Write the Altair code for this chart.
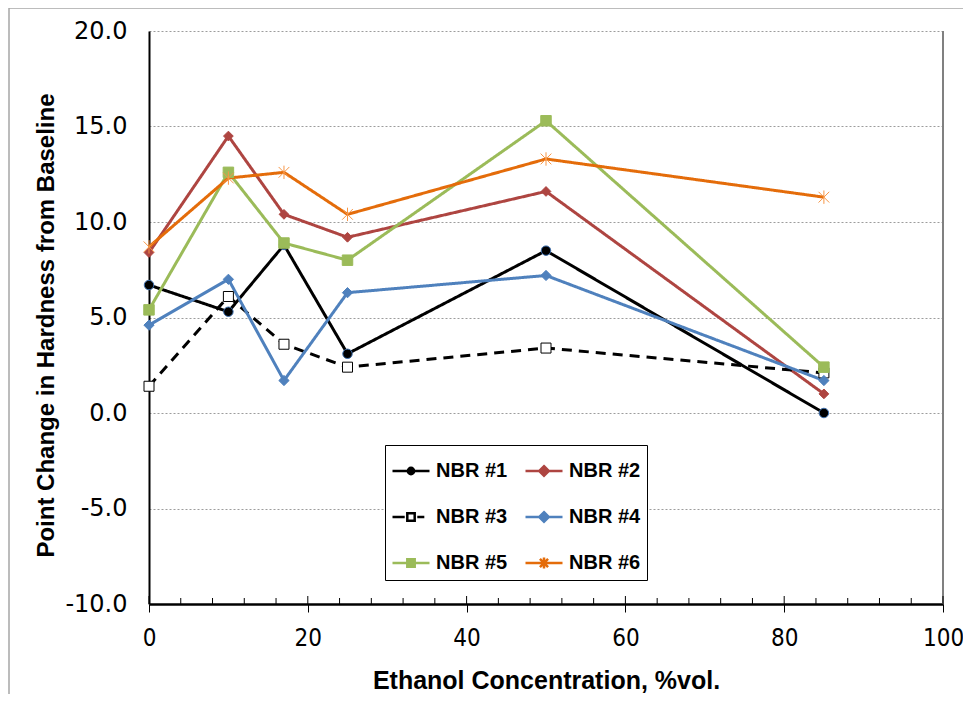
import altair as alt
import pandas as pd

# ---- data ----
x_vals = [0, 10, 17, 25, 50, 85]
series_names = ["NBR #1", "NBR #2", "NBR #3", "NBR #4", "NBR #5", "NBR #6"]
nbr1 = [6.7, 5.3, 8.8, 3.1, 8.5, 0.0]
nbr2 = [8.4, 14.5, 10.4, 9.2, 11.6, 1.0]
nbr3 = [1.4, 6.1, 3.6, 2.4, 3.4, 2.1]
nbr4 = [4.6, 7.0, 1.7, 6.3, 7.2, 1.7]
nbr5 = [5.4, 12.6, 8.9, 8.0, 15.3, 2.4]
nbr6 = [8.7, 12.3, 12.6, 10.4, 13.3, 11.3]

x_ticks = [0, 20, 40, 60, 80, 100]
minor_ticks = [4, 8, 12, 16, 24, 28, 32, 36, 44, 48, 52, 56, 64, 68, 72, 76, 84, 88, 92, 96]
y_ticks = [-10, -5, 0, 5, 10, 15, 20]

rows = []
for name, vals in zip(series_names, [nbr1, nbr2, nbr3, nbr4, nbr5, nbr6]):
    for x, y in zip(x_vals, vals):
        rows.append({"series": name, "conc": x, "change": y})
df = pd.DataFrame(rows)

W, H = 794, 573

# ---- styles ----
line_colors = ["#000000", "#AE4541", "#000000", "#4F81BD", "#9BBB59", "#E46C0A"]
dashes = [[1, 0], [1, 0], [10, 7], [1, 0], [1, 0], [1, 0]]
star_path = "M-1,-1L1,1M-1,1L1,-1M0,-1.25V1.25"
marker_shapes = ["circle", "diamond", "square", "diamond", "square", star_path]
marker_fill = ["#000000", "#AE4541", "#FFFFFF", "#4F81BD", "#9BBB59", "#F79646"]
marker_stroke = ["#3D6FAE", "#AE4541", "#000000", "#4F81BD", "#9BBB59", "#F79646"]
marker_size = [90, 115, 85, 115, 95, 100]
marker_sw = [1, 1, 1.2, 1, 1, 1.6]

leg_shapes = [
    "M-1,0H1M-0.17,0A0.17,0.17,0,1,0,0.17,0A0.17,0.17,0,1,0,-0.17,0Z",
    "M-1,0H1M0,-0.26L0.26,0L0,0.26L-0.26,0Z",
    "M-1,0H-0.34M0.34,0H0.72M-0.2,-0.2H0.2V0.2H-0.2Z",
    "M-1,0H1M0,-0.26L0.26,0L0,0.26L-0.26,0Z",
    "M-1,0H1M-0.2,-0.2H0.2V0.2H-0.2Z",
    "M-1,0H1M-0.22,-0.22L0.22,0.22M-0.22,0.22L0.22,-0.22M0,-0.3V0.3",
]
leg_fill = ["#000000", "#AE4541", "#FFFFFF", "#4F81BD", "#9BBB59", "#E46C0A"]
leg_stroke = ["#000000", "#AE4541", "#000000", "#4F81BD", "#9BBB59", "#E46C0A"]

xscale = alt.Scale(domain=[0, 100], nice=False, zero=False)
yscale = alt.Scale(domain=[-10, 20], nice=False, zero=False)

lbl_font = "DejaVu Sans"
xlbl_font = "DejaVu Sans Condensed, Liberation Sans Narrow, sans-serif"
title_font = "Liberation Sans"

x_axis = alt.Axis(
    values=x_ticks, title="Ethanol Concentration, %vol.", grid=False,
    domainColor="#000000", domainWidth=2.5, tickColor="#000000", tickSize=8, tickWidth=1,
    labelFont=xlbl_font, labelFontSize=24, labelColor="#000000", labelPadding=14,
    labelFlush=False,
    titleFont=title_font, titleFontSize=25, titleFontWeight="bold", titleColor="#000000",
    titlePadding=18,
)
y_axis = alt.Axis(
    values=y_ticks, title="Point Change in Hardness from Baseline",
    labelExpr="(datum.value < 0 ? '-' : '') + format(abs(datum.value), '.1f')",
    grid=True, gridColor="#9C9C9C", gridDash=[2, 2], gridWidth=1,
    domainColor="#000000", domainWidth=2, ticks=False, tickSize=0,
    labelFont=lbl_font, labelFontSize=24, labelColor="#000000", labelPadding=22,
    labelFlush=False,
    titleFont=title_font, titleFontSize=24, titleFontWeight="bold", titleColor="#000000",
    titlePadding=6, titleY=294,
)

base = alt.Chart(df)
X = alt.X("conc:Q", scale=xscale, axis=x_axis)
Y = alt.Y("change:Q", scale=yscale, axis=y_axis)

lines = base.mark_line(strokeWidth=3).encode(
    x=X, y=Y,
    color=alt.Color("series:N", scale=alt.Scale(domain=series_names, range=line_colors), legend=None),
    strokeDash=alt.StrokeDash("series:N", scale=alt.Scale(domain=series_names, range=dashes), legend=None),
    order="conc:Q",
)

points = base.mark_point(filled=True, opacity=1).encode(
    x=X, y=Y,
    shape=alt.Shape("series:N", scale=alt.Scale(domain=series_names, range=marker_shapes), legend=None),
    fill=alt.Fill("series:N", scale=alt.Scale(domain=series_names, range=marker_fill), legend=None),
    stroke=alt.Stroke("series:N", scale=alt.Scale(domain=series_names, range=marker_stroke), legend=None),
    size=alt.Size("series:N", scale=alt.Scale(domain=series_names, range=marker_size), legend=None),
    strokeWidth=alt.StrokeWidth("series:N", scale=alt.Scale(domain=series_names, range=marker_sw), legend=None),
)


def make_legend():
    return alt.Legend(
        title=None, orient="none", legendX=236, legendY=414, columns=2,
        direction="horizontal",
        symbolSize=1369, symbolStrokeWidth=2.5, symbolOpacity=1,
        labelFont=title_font, labelFontSize=20, labelFontWeight="bold", labelColor="#000000",
        labelOffset=5, labelLimit=200, rowPadding=16, columnPadding=12,
        padding=6, strokeColor="#000000", fillColor="#FFFFFF", cornerRadius=0,
    )


legend_layer = base.mark_point(filled=True, opacity=0).encode(
    x=X, y=Y,
    shape=alt.Shape("series:N", scale=alt.Scale(domain=series_names, range=leg_shapes), legend=make_legend()),
    fill=alt.Fill("series:N", scale=alt.Scale(domain=series_names, range=leg_fill), legend=make_legend()),
    stroke=alt.Stroke("series:N", scale=alt.Scale(domain=series_names, range=leg_stroke), legend=make_legend()),
)

minor_df = pd.DataFrame({"conc": minor_ticks})
major_df = pd.DataFrame({"conc": x_ticks})

minor_rules = alt.Chart(minor_df).mark_rule(color="#000000", strokeWidth=1).encode(
    x=X, y=alt.value(H), y2=alt.value(H - 6),
)
major_rules = alt.Chart(major_df).mark_rule(color="#000000", strokeWidth=1).encode(
    x=X, y=alt.value(H), y2=alt.value(H - 8),
)

one = pd.DataFrame({"conc": [100]})
right_line = alt.Chart(one).mark_rule(color="#808080", strokeWidth=2).encode(x=X)

frame = alt.Chart(one).mark_rect(fillOpacity=0, stroke="#A6A6A6", strokeWidth=1.5).encode(
    x=alt.value(-140), x2=alt.value(W + 80),
    y=alt.value(-23), y2=alt.value(H + 200),
)

chart = alt.layer(
    frame, right_line, minor_rules, major_rules, lines, points, legend_layer
).resolve_scale(
    shape="independent", fill="independent", stroke="independent"
).properties(
    width=W, height=H,
    autosize=alt.AutoSizeParams(type="none"),
    padding={"left": 141, "top": 23, "right": 20, "bottom": 90},
    background="#FFFFFF",
).configure_view(stroke=None)

chart.save("out.html", embed_options={"renderer": "svg", "actions": False})
